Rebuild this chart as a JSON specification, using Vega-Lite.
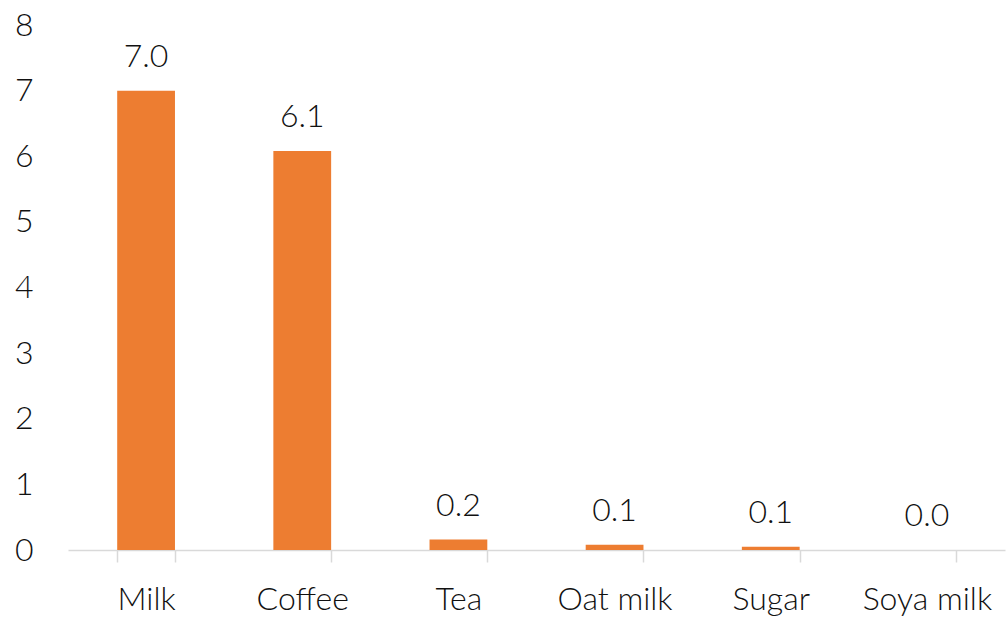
{
  "$schema": "https://vega.github.io/schema/vega-lite/v6.json",
  "width": 937,
  "height": 525,
  "autosize": {"type": "none"},
  "padding": {"left": 68, "top": 25, "right": 2, "bottom": 68},
  "background": "white",
  "config": {
    "view": {"stroke": null},
    "font": "Lato"
  },
  "data": {
    "values": [
      {"item": "Milk", "value": 7.0},
      {"item": "Coffee", "value": 6.08},
      {"item": "Tea", "value": 0.16},
      {"item": "Oat milk", "value": 0.08},
      {"item": "Sugar", "value": 0.05},
      {"item": "Soya milk", "value": 0}
    ]
  },
  "encoding": {
    "x": {
      "field": "item",
      "type": "nominal",
      "sort": null,
      "scale": {"paddingInner": 0.63, "paddingOuter": 0.315},
      "axis": {
        "title": null,
        "labelAngle": 0,
        "labelFont": "Lato",
        "labelFontWeight": 300,
        "labelFontSize": 32,
        "labelColor": "#111111",
        "labelPadding": 22,
        "domainColor": "#d9d9d9",
        "domainWidth": 1.5,
        "tickColor": "#d9d9d9",
        "tickWidth": 1.5,
        "tickSize": 12,
        "tickBand": "extent"
      }
    },
    "y": {
      "field": "value",
      "type": "quantitative",
      "scale": {"domain": [0, 8], "nice": false},
      "axis": {
        "title": null,
        "values": [0, 1, 2, 3, 4, 5, 6, 7, 8],
        "format": "d",
        "grid": false,
        "domain": false,
        "ticks": false,
        "labelFont": "Lato",
        "labelFontWeight": 300,
        "labelFontSize": 32,
        "labelColor": "#111111",
        "labelPadding": 35,
        "labelAlign": "right"
      }
    }
  },
  "layer": [
    {"mark": {"type": "bar", "color": "#ED7D31"}},
    {
      "mark": {
        "type": "text",
        "baseline": "alphabetic",
        "dy": -24,
        "fontSize": 32,
        "fontWeight": 300,
        "font": "Lato",
        "color": "#111111"
      },
      "encoding": {
        "text": {"field": "value", "type": "quantitative", "format": ".1f"}
      }
    }
  ]
}
